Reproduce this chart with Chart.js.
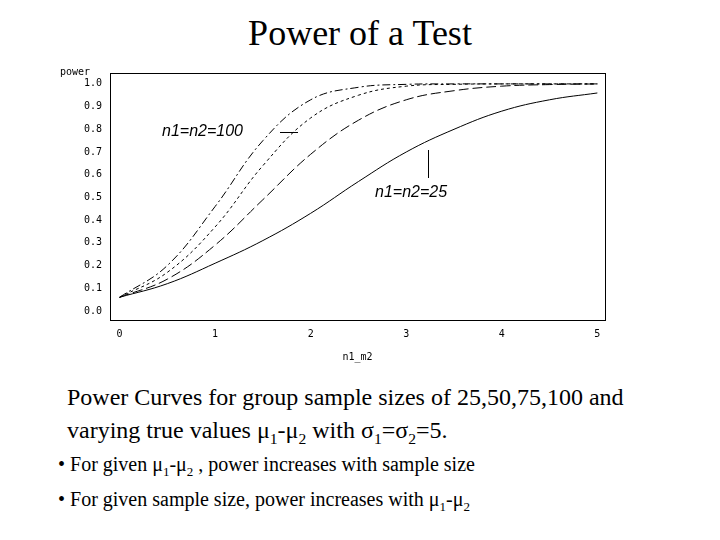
<!DOCTYPE html>
<html><head><meta charset="utf-8">
<script src="https://cdn.jsdelivr.net/npm/chart.js@4"></script>
<style>
body{margin:0;width:720px;height:540px;background:#fff;font-family:"Liberation Serif","Times New Roman",serif;position:relative;overflow:hidden}
#title{position:absolute;top:12px;left:0;width:720px;text-align:center;font-size:36px}
#wrap{position:absolute;left:50px;top:62px;width:570px;height:305px}
.t{position:absolute;left:67px;font-size:24px;line-height:33px}
.b{position:absolute;left:58px;font-size:20px}
sub{font-size:65%}
</style></head><body>
<div id="title">Power of a Test</div>
<div id="wrap"><canvas id="c"></canvas></div>
<div class="t" style="top:381px">Power Curves for group sample sizes of 25,50,75,100 and<br>varying true values &mu;<sub>1</sub>-&mu;<sub>2</sub> with &sigma;<sub>1</sub>=&sigma;<sub>2</sub>=5.</div>
<div class="b" style="top:453px">&bull; For given &mu;<sub>1</sub>-&mu;<sub>2</sub> , power increases with sample size</div>
<div class="b" style="top:488px">&bull; For given sample size, power increases with &mu;<sub>1</sub>-&mu;<sub>2</sub></div>
<script>
const diffs = [0, 0.5, 1, 1.5, 2, 2.5, 3, 3.5, 4, 4.5, 5];
const power100 = [0.06, 0.20, 0.46, 0.75, 0.93, 0.985, 0.998, 1, 1, 1, 1];
const power75 = [0.06, 0.17, 0.37, 0.64, 0.85, 0.95, 0.99, 0.998, 1, 1, 1];
const power50 = [0.06, 0.14, 0.29, 0.49, 0.69, 0.84, 0.93, 0.97, 0.99, 0.997, 1];
const power25 = [0.06, 0.12, 0.21, 0.31, 0.43, 0.57, 0.70, 0.80, 0.88, 0.93, 0.96];
const yTicks = [0, 0.1, 0.2, 0.3, 0.4, 0.5, 0.6, 0.7, 0.8, 0.9, 1.0];
const xTicks = [0, 1, 2, 3, 4, 5];

const pts = (arr) => arr.map((v, i) => ({ x: diffs[i], y: v }));
const ds = (arr, dash) => ({ data: pts(arr), borderColor: "#000", borderWidth: 1, borderDash: dash, pointRadius: 0, tension: 0.4, fill: false });

const tickFont = { family: "DejaVu Sans Mono", size: 10 };

const notes = {
  id: "notes",
  afterDraw(chart) {
    const c = chart.ctx;
    c.save();
    c.fillStyle = "#000"; c.strokeStyle = "#000"; c.lineWidth = 1;
    c.font = "10px DejaVu Sans Mono";
    c.textAlign = "left"; c.textBaseline = "middle";
    c.fillText("power", 10, 10);
    c.font = "italic 16px Liberation Sans";
    c.fillText("n1=n2=100", 112, 70);
    c.beginPath(); c.moveTo(230, 70.5); c.lineTo(248, 70.5); c.stroke();
    c.fillText("n1=n2=25", 325, 131);
    c.beginPath(); c.moveTo(378.5, 88); c.lineTo(378.5, 116); c.stroke();
    c.restore();
  }
};

new Chart("c", {
  type: "line",
  data: { datasets: [ds(power100, [8, 3, 2, 3]), ds(power75, [3, 3]), ds(power50, [10, 4]), ds(power25, [])] },
  options: {
    responsive: true, maintainAspectRatio: false, animation: false,
    layout: { padding: { top: 11, right: 15 } },
    plugins: { legend: { display: false }, tooltip: { enabled: false } },
    scales: {
      x: {
        type: "linear", min: -0.1, max: 5.08,
        afterBuildTicks: (s) => { s.ticks = xTicks.map((v) => ({ value: v })); },
        afterFit: (s) => { s.height = 47; },
        ticks: { font: tickFont, color: "#000", maxRotation: 0, callback: (v) => v },
        grid: { display: false, tickLength: 5 },
        border: { color: "#000" },
        title: { display: true, text: "n1_m2", font: tickFont, color: "#000", padding: { top: 6 } }
      },
      y: {
        type: "linear", min: -0.04, max: 1.048,
        afterBuildTicks: (s) => { s.ticks = yTicks.map((v) => ({ value: v })); },
        afterFit: (s) => { s.width = 60; },
        ticks: { font: tickFont, color: "#000", callback: (v) => v.toFixed(1) },
        grid: { display: false, tickLength: 5 },
        border: { color: "#000" }
      },
      x2: { position: "top", type: "linear", ticks: { display: false }, grid: { display: false, drawTicks: false }, border: { color: "#000" }, afterFit: (s) => { s.height = 0; } },
      y2: { position: "right", type: "linear", ticks: { display: false }, grid: { display: false, drawTicks: false }, border: { color: "#000" }, afterFit: (s) => { s.width = 0; } }
    }
  },
  plugins: [notes]
});
</script>
</body></html>
